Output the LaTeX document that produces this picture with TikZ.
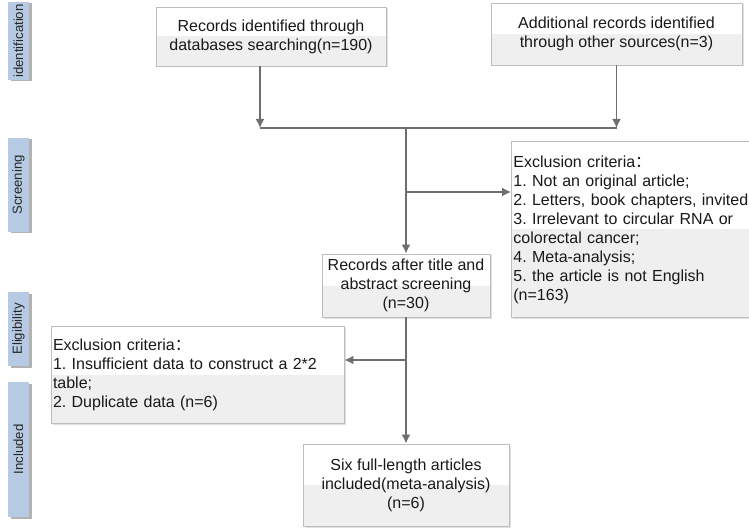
\documentclass[tikz,border=0pt]{standalone}
\usepackage{fontspec}
\setmainfont{Liberation Sans}
\newfontfamily\cjk{Noto Sans CJK SC}
\usetikzlibrary{shadows}
\usetikzlibrary{arrows.meta}
\frenchspacing
\definecolor{boxline}{HTML}{BDBDBD}
\definecolor{boxfill}{HTML}{EFEFEF}
\definecolor{stagefill}{HTML}{B6CAE3}
\definecolor{flowgray}{HTML}{6E6E6E}
\tikzset{box/.style={draw=boxline, fill=boxfill, line width=0.8pt, inner sep=2pt,
   path picture={\fill[white] (path picture bounding box.north west) rectangle (path picture bounding box.east);},
   drop shadow={shadow xshift=1.5pt, shadow yshift=-1.5pt, fill=black, opacity=0.12},
   font=\fontsize{16}{19}\selectfont, text=black!90},
 stage/.style={fill=stagefill, minimum width=21pt, inner sep=0pt,
   drop shadow={shadow xshift=2.5pt, shadow yshift=-1.5pt, fill=black, opacity=0.3},
   font=\fontsize{13.2}{15}\selectfont, text=black!85},
 link/.style={draw=flowgray, line width=1.6pt},
 flow/.style={link, -{Latex[length=9pt,width=9pt]}},
 }
\newcommand{\stagetext}[1]{\rotatebox{90}{#1}}

\begin{document}
\begin{tikzpicture}[x=1pt, y=-1pt]
        \useasboundingbox (0,0) rectangle (749,529);
        \node[stage, minimum height=78pt] (ident) at (18.5,41) {\stagetext{identification}};
        \node[stage, minimum height=94pt] (scr) at (18.5,185) {\stagetext{Screening}};
        \node[stage, minimum height=74pt] (elig) at (18.5,329) {\stagetext{Eligibility}};
        \node[stage, minimum height=135pt] (inc) at (18.5,449.5) {\stagetext{Included}};
        \node[box, minimum width=230pt, minimum height=59pt, align=center] (db) at (271,36.5)
            {Records identified through\\databases searching(n=190)};
        \node[box, minimum width=251pt, minimum height=62pt, align=center] (other) at (616.5,34)
            {Additional records identified\\through other sources(n=3)};
        \node[box, anchor=north west, minimum width=250pt, minimum height=176pt, text width=246pt, align=left] (excla) at (511,141)
            {Exclusion criteria{\cjk ：}\\1. Not an original article;\\2. Letters, book chapters, invited\\3. Irrelevant to circular RNA or\\colorectal cancer;\\4. Meta-analysis;\\5. the article is not English\\(n=163)};
        \node[box, minimum width=168pt, minimum height=63pt, align=center] (screen) at (406,285.5)
            {Records after title and\\abstract screening\\(n=30)};
        \node[box, minimum width=293pt, minimum height=97pt, text width=289pt, align=left] (asclb) at (197.5,374.5)
            {Exclusion criteria{\cjk ：}\\1. Insufficient data to construct a 2*2\\table;\\2. Duplicate data (n=6)};
        \node[box, minimum width=206pt, minimum height=82pt, align=center] (incl) at (406,485)
            {Six full-length articles\\included(meta-analysis)\\(n=6)};
        \coordinate (merge) at (406,128);
        \coordinate (splita) at (406,192);
        \coordinate (splitb) at (406,360);
        \draw[flow] ([xshift=-11pt]db.south) -- ([xshift=-11pt]db.south |- merge);
        \draw[flow] (other.south) -- (other.south |- merge);
        \draw[link] ([xshift=-11pt]db.south |- merge) -- (other.south |- merge);
        \draw[flow] (merge) -- (screen.north);
        \draw[flow] (splita) -- (splita -| excla.west);
        \draw[flow] (screen.south) -- (incl.north);
        \draw[flow] (splitb) -- (splitb -| asclb.east);
    \end{tikzpicture}
\end{document}
